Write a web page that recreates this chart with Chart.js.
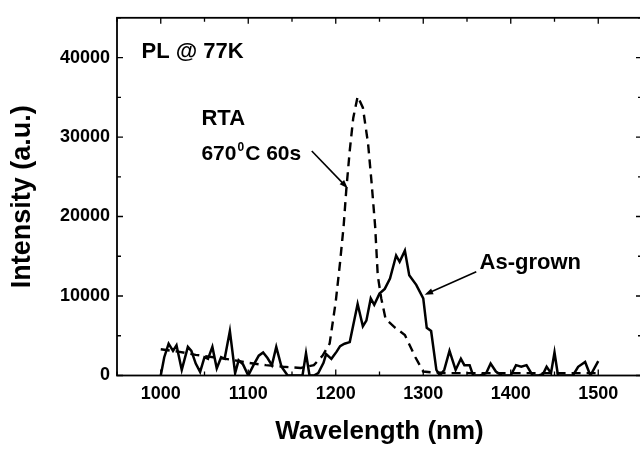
<!DOCTYPE html>
<html>
<head>
<meta charset="utf-8">
<script src="https://cdn.jsdelivr.net/npm/chart.js@4/dist/chart.umd.min.js"></script>
<style>
  body { margin: 0; background: #fff; overflow: hidden; }
  #wrap { width: 646px; height: 453px; position: relative; }
</style>
</head>
<body>
<div id="wrap"><canvas id="chart-area"></canvas></div>
<script>
// As-grown spectrum (solid line)
var asGrownWavelength = [1000,1004,1009,1014,1018,1024,1031,1035,1040,1045,1050,1054,1059,1064,1069,1073,1079,1085,1089,1094,1100,1106,1112,1117,1122,1127,1132,1138,1145,1150,1156,1162,1166,1170,1175,1180,1186,1189,1195,1201,1205,1210,1216,1225,1231,1235,1240,1244,1250,1256,1262,1269,1273,1279,1284,1292,1300,1304,1309,1315,1319,1324,1330,1337,1343,1347,1353,1357,1365,1372,1377,1383,1390,1400,1406,1412,1418,1425,1432,1437,1441,1446,1450,1454,1462,1471,1477,1485,1491,1500];
var asGrownIntensity = [0,2300,4000,3100,3800,700,3600,3100,1500,450,2300,2100,3600,900,2300,2100,5600,300,1900,1400,0,1300,2500,2900,2200,1300,3600,1100,0,0,0,0,2800,0,0,300,1600,2700,2100,3000,3700,4000,4200,9000,6200,6900,9700,8900,10300,10900,12200,15100,14300,15700,12600,11400,9700,6000,5600,700,0,700,3100,700,2100,1300,1300,0,0,300,1500,500,0,0,1300,1100,1300,0,0,200,1100,300,2900,0,0,0,1100,1700,0,1800];

// RTA 670C 60s spectrum (dashed line)
var rtaWavelength = [1000,1020,1040,1060,1080,1100,1120,1140,1160,1175,1185,1193,1200,1205,1209,1212,1216,1220,1225,1231,1237,1241,1245,1248,1252,1257,1268,1279,1291,1300,1310,1330,1360,1400,1450,1500];
var rtaIntensity = [3300,3000,2600,2300,2000,1600,1300,1100,950,1300,2500,4000,9300,14300,18800,23300,28300,32400,35100,33700,29100,24200,18800,12600,9700,7100,6000,5100,2300,500,400,300,300,300,300,300];

var xTicks = [1000, 1100, 1200, 1300, 1400, 1500];
var yTicks = [0, 10000, 20000, 30000, 40000];

var fontFamily = '"Liberation Sans", Arial, sans-serif';

function toPoints(xs, ys) {
	return xs.map(function (x, i) { return { x: x, y: ys[i] }; });
}

// frame, inward ticks, labels and arrows
var decorPlugin = {
	id: 'decor',
	afterDraw: function (chart) {
		var ctx = chart.ctx;
		var a = chart.chartArea;
		var sx = chart.scales.x;
		var sy = chart.scales.y;
		ctx.save();
		ctx.strokeStyle = '#000';
		ctx.lineWidth = 1.8;
		ctx.strokeRect(a.left, a.top, a.right - a.left, a.bottom - a.top);

		ctx.lineWidth = 1.3;
		ctx.beginPath();
		for (var v = 950; v <= 1550; v += 50) {
			var px = sx.getPixelForValue(v);
			var len = v % 100 === 0 ? 6 : 4;
			ctx.moveTo(px, a.bottom); ctx.lineTo(px, a.bottom - len);
			ctx.moveTo(px, a.top); ctx.lineTo(px, a.top + len);
		}
		for (var w = 0; w <= 45000; w += 5000) {
			var py = sy.getPixelForValue(w);
			var l2 = w % 10000 === 0 ? 6 : 4;
			ctx.moveTo(a.left, py); ctx.lineTo(a.left + l2, py);
			ctx.moveTo(a.right, py); ctx.lineTo(a.right - l2, py);
		}
		ctx.stroke();

		ctx.fillStyle = '#000';
		ctx.textAlign = 'left';
		ctx.textBaseline = 'alphabetic';
		ctx.font = 'bold 22px ' + fontFamily;
		ctx.fillText('PL @ 77K', sx.getPixelForValue(978), sy.getPixelForValue(40000));
		ctx.fillText('RTA', sx.getPixelForValue(1046.5), sy.getPixelForValue(31500));
		ctx.fillText('As-grown', sx.getPixelForValue(1364.4), sy.getPixelForValue(13450));

		// 670^0C 60s
		var tx = sx.getPixelForValue(1046.5);
		var ty = sy.getPixelForValue(27170);
		ctx.font = 'bold 21px ' + fontFamily;
		ctx.fillText('670', tx, ty);
		tx += ctx.measureText('670').width + 1;
		ctx.font = 'bold 12px ' + fontFamily;
		ctx.fillText('0', tx, ty - 9);
		tx += ctx.measureText('0').width + 1;
		ctx.font = 'bold 21px ' + fontFamily;
		ctx.fillText('C 60s', tx, ty);

		drawArrow(ctx, sx.getPixelForValue(1172.6), sy.getPixelForValue(28245), sx.getPixelForValue(1213.7), sy.getPixelForValue(23548));
		drawArrow(ctx, sx.getPixelForValue(1360.6), sy.getPixelForValue(13040), sx.getPixelForValue(1301.6), sy.getPixelForValue(10160));
		ctx.restore();
	}
};

function drawArrow(ctx, x1, y1, x2, y2) {
	var ang = Math.atan2(y2 - y1, x2 - x1);
	var head = 9;
	ctx.lineWidth = 1.6;
	ctx.beginPath();
	ctx.moveTo(x1, y1);
	ctx.lineTo(x2 - Math.cos(ang) * head * 0.8, y2 - Math.sin(ang) * head * 0.8);
	ctx.stroke();
	ctx.beginPath();
	ctx.moveTo(x2, y2);
	ctx.lineTo(x2 - head * Math.cos(ang - 0.35), y2 - head * Math.sin(ang - 0.35));
	ctx.lineTo(x2 - head * Math.cos(ang + 0.35), y2 - head * Math.sin(ang + 0.35));
	ctx.closePath();
	ctx.fill();
}

function plainLabel(value) {
	return String(value);
}

var config = {
	type: 'line',
	data: {
		datasets: [{
			label: 'As-grown',
			data: toPoints(asGrownWavelength, asGrownIntensity),
			borderColor: '#000',
			borderWidth: 2.5,
			pointRadius: 0,
			tension: 0,
			fill: false
		}, {
			label: 'RTA 670C 60s',
			data: toPoints(rtaWavelength, rtaIntensity),
			borderColor: '#000',
			borderWidth: 2.4,
			borderDash: [9, 6],
			pointRadius: 0,
			tension: 0,
			fill: false
		}]
	},
	options: {
		responsive: true,
		maintainAspectRatio: false,
		animation: false,
		layout: { padding: { top: 12, right: 4, left: 0, bottom: 0 } },
		plugins: { legend: { display: false }, tooltip: { enabled: false } },
		scales: {
			x: {
				type: 'linear',
				min: 950,
				max: 1550,
				grid: { display: false, drawTicks: false },
				border: { display: false },
				afterBuildTicks: function (scale) {
					scale.ticks = xTicks.map(function (v) { return { value: v }; });
				},
				afterFit: function (scale) { scale.height = 77.5; },
				ticks: {
					padding: 8,
					color: '#000',
					maxRotation: 0,
					callback: plainLabel,
					font: { family: fontFamily, size: 18, weight: 'bold' }
				},
				title: {
					display: true,
					text: 'Wavelength (nm)',
					color: '#000',
					padding: { top: 0, bottom: 6 },
					font: { family: fontFamily, size: 26, weight: 'bold' }
				}
			},
			y: {
				min: 0,
				max: 45000,
				grid: { display: false, drawTicks: false },
				border: { display: false },
				afterBuildTicks: function (scale) {
					scale.ticks = yTicks.map(function (v) { return { value: v }; });
				},
				afterFit: function (scale) { scale.width = 117; },
				ticks: {
					padding: 7,
					color: '#000',
					callback: plainLabel,
					font: { family: fontFamily, size: 18, weight: 'bold' }
				},
				title: {
					display: true,
					text: 'Intensity (a.u.)',
					color: '#000',
					padding: { top: 6, bottom: 0 },
					font: { family: fontFamily, size: 27, weight: 'bold' }
				}
			}
		}
	},
	plugins: [decorPlugin]
};

var context = document.getElementById('chart-area').getContext('2d');
window.myChart = new Chart(context, config);
</script>
</body>
</html>
